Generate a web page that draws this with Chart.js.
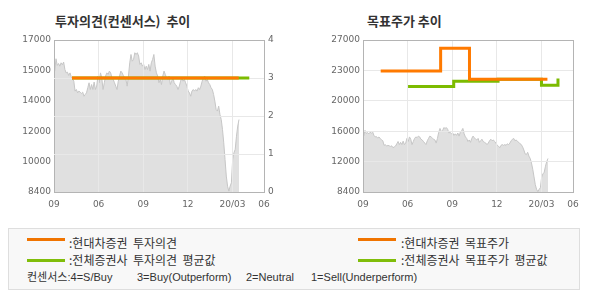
<!DOCTYPE html>
<html>
<head>
<meta charset="utf-8">
<script src="https://cdn.jsdelivr.net/npm/chart.js@4"></script>
<style>
  body { margin: 0; background: #fff; width: 590px; height: 300px; position: relative; overflow: hidden;
         font-family: "Noto Sans CJK KR", "Noto Sans", sans-serif; color: #333; }
  .title { position: absolute; top: 12px; font-size: 13px; font-weight: bold; line-height: 18px; color: #333; white-space: pre; }
  canvas { position: absolute; top: 0; }
  #legend { position: absolute; left: 8px; top: 228px; width: 570px; height: 60px; background: #f8f8f8; border: 1px solid #dedede; }
  #legend .sw { position: absolute; width: 38px; height: 3px; }
  #legend .t { position: absolute; font-size: 12px; line-height: 16px; white-space: pre; color: #333; }
  #legend .s { position: absolute; font-size: 11px; line-height: 14px; white-space: pre; color: #333;
               font-family: "Liberation Sans", "Noto Sans CJK KR", sans-serif; }
</style>
</head>
<body>
<div class="title" style="left:55px">투자의견(컨센서스)  추이</div>
<div class="title" style="left:367px">목표주가 추이</div>
<canvas id="opinionChart" width="295" height="215" style="left:0"></canvas>
<canvas id="targetChart" width="295" height="215" style="left:295px"></canvas>

<div id="legend">
  <div class="sw" style="left:18px;top:9px;background:#f07400"></div>
  <div class="t" style="left:60px;top:6px">:현대차증권  투자의견</div>
  <div class="sw" style="left:18px;top:30px;background:#80bd0a"></div>
  <div class="t" style="left:60px;top:23px">:전체증권사  투자의견  평균값</div>
  <div class="sw" style="left:349px;top:9px;background:#f07400"></div>
  <div class="t" style="left:392px;top:6px">:현대차증권  목표주가</div>
  <div class="sw" style="left:349px;top:30px;background:#80bd0a"></div>
  <div class="t" style="left:392px;top:23px">:전체증권사  목표주가  평균값</div>
  <div class="s" style="left:18px;top:41px">컨센서스:4=S/Buy</div>
  <div class="s" style="left:128px;top:41px">3=Buy(Outperform)</div>
  <div class="s" style="left:237px;top:41px">2=Neutral</div>
  <div class="s" style="left:302px;top:41px">1=Sell(Underperform)</div>
</div>

<script>
// x 축은 시작월(09)부터의 개월 수
const xTickMonths = [0, 3, 6, 9, 12, 14.12];
const xTickLabels = ['09', '06', '09', '12', '20/03', '06'];
const xMax = 14.12;

// 주가 (대략 2~3 거래일 간격으로 읽은 값)
const priceFirstMonth = 0.05;
const priceLastMonth = 12.44;
const prices = [
  15240, 15940, 15560, 15670, 15520, 15710, 15600, 15750, 15330, 15140, 15180, 14990, 15140, 14920, 14800, 14670, 14110,
  14200, 14010, 14110, 14050, 13980, 14050, 13820, 13920, 14010, 14300, 14580, 14200, 14480, 14200, 14620, 14200, 14390,
  14960, 14580, 15140, 14860, 14200, 14580, 14960, 15140, 15050, 15240, 15140, 14860, 14770, 14580, 14390, 14200, 14670,
  14960, 15240, 15140, 14990, 14860, 14770, 14390, 14960, 15710, 16180, 15800, 15900, 16280, 16180, 16280, 16090, 15620,
  15710, 15520, 15620, 15330,
  15520, 15330, 15620, 15240, 15710, 15900, 16180, 15520, 15140, 14960, 14580, 14770, 14480, 14960, 15240, 15050, 14860,
  14770, 14960, 14480, 14670, 14860, 14580, 14480, 14390, 14200, 14390, 14670, 14860, 14670, 14770, 14580, 14390, 14110,
  14010, 13820, 14110,
  14200, 14110, 14200, 14110, 14300, 14200, 14390, 14670, 14860, 14960, 14670, 14770, 14580, 14480, 14300, 14200, 13920,
  13540, 13070, 12980, 13260, 12790, 12500, 11940, 11180, 10240, 9300, 8730, 8450, 8730, 8920, 10240, 10620, 10810,
  11560, 12130, 12500
];

// 투자의견 (4=S/Buy ... 1=Sell)
const opinionMonths = [1.21, 12.42];
const opinionValues = [3, 3];
const avgOpinionMonths = [1.21, 13.13];
const avgOpinionValues = [3, 3];

// 목표주가
const targetMonths = [1.19, 5.22, 7.16, 12.4];
const targetValues = [23200, 26000, 22200, 22200];
const avgTargetMonths = [3.03, 6.1, 9.08, 12.0, 13.11];
const avgTargetValues = [21300, 21950, 22200, 21450, 22300];

// 축 눈금
const opinionPriceMin = 8400, opinionPriceMax = 17000;
const opinionPriceLabels = ['8400', '10000', '12000', '14000', '15000', '17000'];
const opinionLabels = ['0', '1', '2', '3', '4'];
const targetPriceMin = 8400, targetPriceMax = 27000;
const targetPriceLabels = ['8400', '12000', '16000', '20000', '23000', '27000'];

const ORANGE = '#ff7a00';
const GREEN = '#7cbb00';
const GRID = '#e8e8e8';
const EDGE = '#b4b4b4';
const LABEL = '#666';

Chart.defaults.font.family = "'DejaVu Sans', sans-serif";
Chart.defaults.font.size = 9;
Chart.defaults.color = LABEL;

const toPoints = (xs, ys) => xs.map((x, i) => ({ x: x, y: ys[i] }));
const pricePoints = prices.map((p, i) => ({
  x: priceFirstMonth + i * (priceLastMonth - priceFirstMonth) / (prices.length - 1),
  y: p
}));

const evenTicks = (min, max, n) => axis => {
  axis.ticks = Array.from({ length: n }, (_, i) => ({ value: min + i * (max - min) / (n - 1) }));
};
const edgeColor = c => (c.index === 0 || c.index === c.scale.ticks.length - 1) ? EDGE : GRID;

// 주가 영역 위에 격자선 다시 그리기
const gridOverArea = {
  id: 'gridOverArea',
  afterDatasetDraw(chart, args) {
    if (!chart.data.datasets[args.index].fill) return;
    Object.values(chart.scales).forEach(s => {
      if (s.options.grid.drawOnChartArea) s.drawGrid(chart.chartArea);
    });
  }
};

const xScale = {
  type: 'linear', min: 0, max: xMax,
  afterBuildTicks: axis => { axis.ticks = xTickMonths.map(v => ({ value: v })); },
  afterFit: axis => { axis.height = 23; },
  ticks: { autoSkip: false, maxRotation: 0, padding: 7, callback: (v, i) => xTickLabels[i] },
  grid: { color: edgeColor, drawTicks: false },
  border: { color: EDGE }
};

const priceDataset = {
  label: '주가', data: pricePoints, yAxisID: 'y', order: 3,
  fill: 'start', backgroundColor: '#e0e0e0', borderColor: '#c6c6c6', borderWidth: 1,
  pointRadius: 0, tension: 0
};

new Chart(document.getElementById('opinionChart'), {
  type: 'line',
  data: {
    datasets: [
      { label: '현대차증권 투자의견', data: toPoints(opinionMonths, opinionValues), yAxisID: 'y1', order: 1,
        borderColor: ORANGE, borderWidth: 3, pointRadius: 0, stepped: true },
      { label: '전체증권사 투자의견 평균값', data: toPoints(avgOpinionMonths, avgOpinionValues), yAxisID: 'y1', order: 2,
        borderColor: GREEN, borderWidth: 3, pointRadius: 0, stepped: true },
      priceDataset
    ]
  },
  options: {
    responsive: false, animation: false, events: [],
    layout: { padding: { top: 40, left: 0, right: 0, bottom: 0 } },
    plugins: { legend: { display: false }, tooltip: { enabled: false } },
    scales: {
      x: xScale,
      y: {
        position: 'left', min: opinionPriceMin, max: opinionPriceMax,
        afterBuildTicks: evenTicks(opinionPriceMin, opinionPriceMax, opinionPriceLabels.length),
        afterFit: axis => { axis.width = 54; },
        ticks: { padding: 3, callback: (v, i) => opinionPriceLabels[i] },
        grid: { drawOnChartArea: false, drawTicks: false },
        border: { color: EDGE }
      },
      y1: {
        position: 'right', min: 0, max: 4,
        afterBuildTicks: evenTicks(0, 4, opinionLabels.length),
        afterFit: axis => { axis.width = 31; },
        ticks: { padding: 4, callback: (v, i) => opinionLabels[i] },
        grid: { color: edgeColor, drawTicks: false },
        border: { color: EDGE }
      }
    }
  },
  plugins: [gridOverArea]
});

new Chart(document.getElementById('targetChart'), {
  type: 'line',
  data: {
    datasets: [
      { label: '현대차증권 목표주가', data: toPoints(targetMonths, targetValues), order: 1,
        borderColor: ORANGE, borderWidth: 3, pointRadius: 0, stepped: true },
      { label: '전체증권사 목표주가 평균값', data: toPoints(avgTargetMonths, avgTargetValues), order: 2,
        borderColor: GREEN, borderWidth: 3, pointRadius: 0, stepped: true },
      priceDataset
    ]
  },
  options: {
    responsive: false, animation: false, events: [],
    layout: { padding: { top: 40, left: 0, right: 17, bottom: 0 } },
    plugins: { legend: { display: false }, tooltip: { enabled: false } },
    scales: {
      x: xScale,
      y: {
        position: 'left', min: targetPriceMin, max: targetPriceMax,
        afterBuildTicks: evenTicks(targetPriceMin, targetPriceMax, targetPriceLabels.length),
        afterFit: axis => { axis.width = 68; },
        ticks: { padding: 3, callback: (v, i) => targetPriceLabels[i] },
        grid: { color: edgeColor, drawTicks: false },
        border: { color: EDGE }
      }
    }
  },
  plugins: [gridOverArea]
});
</script>
</body>
</html>
